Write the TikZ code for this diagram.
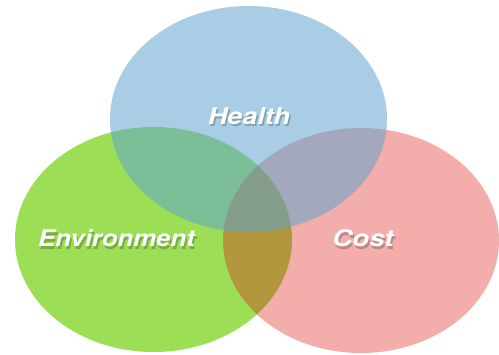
\documentclass[tikz,border=0pt]{standalone}
\usepackage{graphicx}
\usepackage{fontspec}
\setsansfont{TeX Gyre Heros}
\definecolor{envgreen}{RGB}{156,222,86}
\definecolor{costred}{RGB}{220,21,12}
\definecolor{healthblue}{RGB}{97,164,206}
\tikzset{
  setlabel/.style={font=\sffamily\bfseries\itshape\fontsize{23}{28}\selectfont,
    text=white, inner sep=0pt, anchor=base},
  setshadow/.style={setlabel, text=black, text opacity=0.22},
}
% label text widened horizontally
\newcommand{\widelabel}[2]{\scalebox{#1}[1]{#2}}
\begin{document}
\begin{tikzpicture}[x=1pt,y=-1pt]
  \useasboundingbox (0,0) rectangle (499,355);
  % the three sets
  \fill[envgreen] (153.5,239.5) ellipse [x radius=138.5, y radius=112.5];
  \fill[costred, fill opacity=0.35] (361,240.5) ellipse [x radius=138, y radius=112.5];
  \fill[healthblue, fill opacity=0.55] (248.5,119) ellipse [x radius=138.5, y radius=113];
  % drop shadows under the labels
  \node[setshadow] at (250.5,127) {\widelabel{1.17}{Health}};
  \node[setshadow] at (118,249.5) {\widelabel{1.12}{Environment}};
  \node[setshadow] at (364.5,249.5) {\widelabel{1.2}{Cost}};
  % labels
  \node[setlabel] (health) at (249,124.5) {\widelabel{1.17}{Health}};
  \node[setlabel] (env) at (116.5,247) {\widelabel{1.12}{Environment}};
  \node[setlabel] (cost) at (363,247) {\widelabel{1.2}{Cost}};
\end{tikzpicture}
\end{document}
